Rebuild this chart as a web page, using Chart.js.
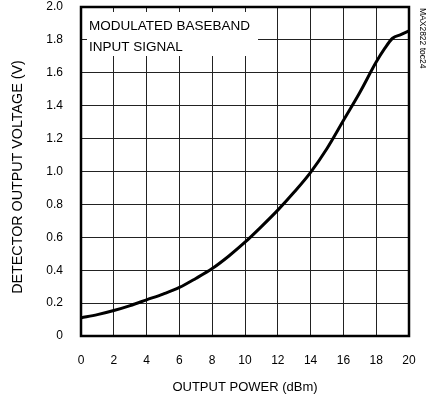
<!DOCTYPE html>
<html>
<head>
<meta charset="utf-8">
<script src="https://cdn.jsdelivr.net/npm/chart.js@4/dist/chart.umd.min.js"></script>
<style>
  html, body { margin: 0; padding: 0; background: #fff; }
  #wrap { width: 430px; height: 395px; position: relative; }
</style>
</head>
<body>
<div id="wrap"><canvas id="chart" width="430" height="395"></canvas></div>
<script>
const outputPower = [0, 1, 2, 3, 4, 5, 6, 7, 8, 9, 10, 11, 12, 13, 14, 15, 16, 17, 18, 18.5, 19, 19.5, 20]
const detectorVoltage = [0.11, 0.13, 0.155, 0.185, 0.22, 0.255, 0.295, 0.35, 0.41, 0.485, 0.57, 0.665, 0.765, 0.875, 0.995, 1.14, 1.31, 1.48, 1.665, 1.745, 1.81, 1.832, 1.855]

const boxLines = ['MODULATED BASEBAND', 'INPUT SIGNAL']
const sideNote = 'MAX2822 toc24'
const yTitle = 'DETECTOR OUTPUT VOLTAGE (V)'

const FONT = '"Liberation Sans", Arial, sans-serif'

// white label box sitting over the grid, frame, y title and side note
const overlay = {
    id: 'overlay',
    afterDatasetsDraw(chart) {
        const ctx = chart.ctx
        const a = chart.chartArea
        ctx.save()
        ctx.fillStyle = '#fff'
        ctx.fillRect(a.left + 6, a.top + 5, 171, 44)
        ctx.fillStyle = '#000'
        ctx.font = '13.5px ' + FONT
        ctx.textBaseline = 'middle'
        ctx.fillText(boxLines[0], a.left + 8, a.top + 19)
        ctx.fillText(boxLines[1], a.left + 8, a.top + 40)

        ctx.lineWidth = 2.5
        ctx.strokeStyle = '#000'
        ctx.strokeRect(a.left, a.top, a.right - a.left, a.bottom - a.top)
        ctx.restore()

        ctx.save()
        ctx.translate(18.5, 177)
        ctx.rotate(-Math.PI / 2)
        ctx.fillStyle = '#000'
        ctx.font = '14.3px ' + FONT
        ctx.textAlign = 'center'
        ctx.textBaseline = 'middle'
        ctx.fillText(yTitle, 0, 0)
        ctx.restore()

        ctx.save()
        ctx.translate(422, 8)
        ctx.rotate(Math.PI / 2)
        ctx.fillStyle = '#000'
        ctx.font = '8.5px ' + FONT
        ctx.textBaseline = 'middle'
        ctx.fillText(sideNote, 0, 0)
        ctx.restore()
    }
}

const ctx = document.getElementById('chart')

new Chart(ctx, {
    type: 'line',
    data: {
        datasets: [{
            data: outputPower.map((x, i) => ({ x: x, y: detectorVoltage[i] })),
            borderColor: '#000',
            borderWidth: 3,
            pointRadius: 0,
            cubicInterpolationMode: 'monotone',
            fill: false
        }]
    },
    plugins: [overlay],
    options: {
        responsive: false,
        animation: false,
        layout: { padding: { top: 7, right: 21, left: 0, bottom: 0 } },
        plugins: {
            legend: { display: false },
            tooltip: { enabled: false }
        },
        scales: {
            x: {
                type: 'linear',
                min: 0,
                max: 20,
                afterFit: (s) => {
                    s.height = 59
                    s.paddingLeft = 0
                    s.paddingRight = 0
                },
                ticks: {
                    stepSize: 2,
                    color: '#000',
                    padding: 17,
                    font: { family: FONT, size: 12 }
                },
                grid: { color: '#222', lineWidth: 1, drawTicks: false },
                border: { display: false },
                title: {
                    display: true,
                    text: 'OUTPUT POWER (dBm)',
                    color: '#000',
                    font: { family: FONT, size: 13 },
                    padding: { top: 0, bottom: 0 }
                }
            },
            y: {
                min: 0,
                max: 2,
                afterFit: (s) => {
                    s.width = 81
                    s.paddingTop = 0
                    s.paddingBottom = 0
                },
                ticks: {
                    stepSize: 0.2,
                    color: '#000',
                    padding: 18,
                    font: { family: FONT, size: 12 },
                    callback: (v) => v === 0 ? '0' : v.toFixed(1)
                },
                grid: { color: '#222', lineWidth: 1, drawTicks: false },
                border: { display: false }
            }
        }
    }
})
</script>
</body>
</html>
